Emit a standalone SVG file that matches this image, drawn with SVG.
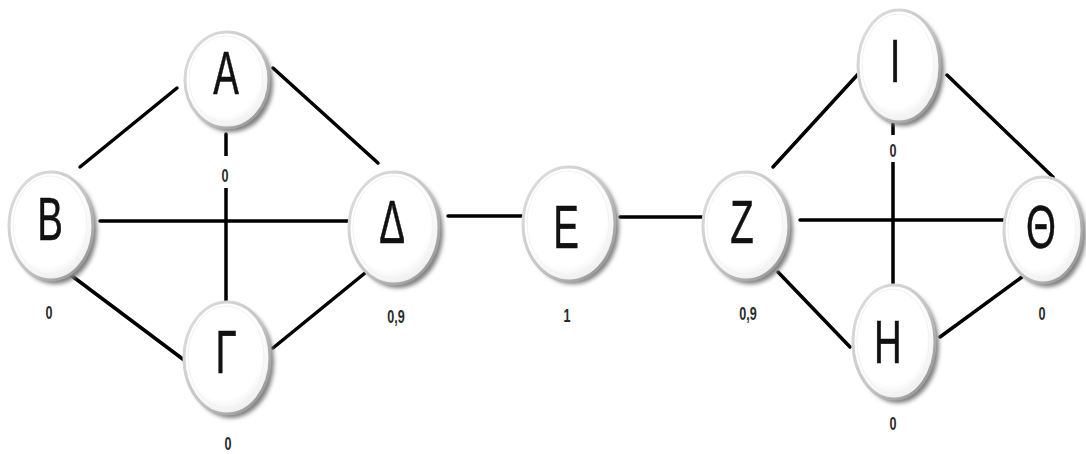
<svg xmlns="http://www.w3.org/2000/svg" width="1086" height="454" viewBox="0 0 1086 454">
  <defs>
    <filter id="soft" x="-30%" y="-30%" width="160%" height="160%">
      <feGaussianBlur stdDeviation="2.2"/>
    </filter>
    <linearGradient id="rim" x1="0" y1="0" x2="1" y2="1">
      <stop offset="0" stop-color="#e2e2e2"/>
      <stop offset="0.55" stop-color="#c4c4c4"/>
      <stop offset="1" stop-color="#8a8a8a"/>
    </linearGradient>
    <radialGradient id="face" cx="0.45" cy="0.42" r="0.6">
      <stop offset="0.75" stop-color="#ffffff"/>
      <stop offset="1" stop-color="#ececec"/>
    </radialGradient>
  </defs>
  <style>
    .edge { stroke: #000; stroke-width: 3.5; stroke-linecap: round; fill: none; }
    .shadow { fill: #7e7e7e; filter: url(#soft); }
    .disc { fill: url(#face); stroke: url(#rim); stroke-width: 3; }
    .inner { fill: none; stroke: #f2f2f2; stroke-width: 1; }
    .letter { font-family: "Liberation Sans", "DejaVu Sans", sans-serif; font-size: 62px; fill: #111; stroke: #111; stroke-width: 0.6; text-anchor: middle; }
    .val { font-family: "Liberation Sans", "DejaVu Sans", sans-serif; font-size: 18px; font-weight: bold; fill: #2a2a2a; text-anchor: middle; }
    .gap { fill: #fff; }
  </style>

  <rect width="1086" height="454" fill="#fff"/>

  <!-- connectors -->
  <g id="edges">
    <line class="edge" x1="80" y1="167" x2="177" y2="88"/>
    <line class="edge" x1="273" y1="68" x2="378" y2="163"/>
    <line class="edge" x1="100" y1="221" x2="350" y2="221"/>
    <line class="edge" x1="226" y1="134" x2="226" y2="301"/>
    <line class="edge" x1="68" y1="273" x2="184" y2="360"/>
    <line class="edge" x1="273" y1="348" x2="365" y2="273"/>
    <line class="edge" x1="448" y1="216" x2="522" y2="216"/>
    <line class="edge" x1="620" y1="217" x2="704" y2="217"/>
    <line class="edge" x1="773" y1="167" x2="860" y2="72"/>
    <line class="edge" x1="947" y1="75" x2="1053" y2="177"/>
    <line class="edge" x1="800" y1="220" x2="1006" y2="220"/>
    <line class="edge" x1="893" y1="124" x2="893" y2="288"/>
    <line class="edge" x1="778" y1="272" x2="850" y2="347"/>
    <line class="edge" x1="940" y1="337" x2="1022" y2="277"/>
  </g>

  <!-- nodes -->
  <g id="node-A">
    <ellipse class="shadow" cx="231" cy="84" rx="42" ry="48"/>
    <ellipse class="disc" cx="227" cy="80" rx="42" ry="48"/>
    <ellipse class="inner" cx="226" cy="79" rx="37" ry="43"/>
    <text class="letter" transform="translate(226 94) scale(0.62 1)">A</text>
    <rect class="gap" x="218" y="156" width="16" height="32"/>
    <text class="val" transform="translate(225 182) scale(0.7 1)">0</text>
  </g>

  <g id="node-B">
    <ellipse class="shadow" cx="55" cy="230" rx="42" ry="54"/>
    <ellipse class="disc" cx="51" cy="226" rx="42" ry="54"/>
    <ellipse class="inner" cx="50" cy="225" rx="37" ry="49"/>
    <text class="letter" transform="translate(50 240) scale(0.62 1)">B</text>
    <text class="val" transform="translate(49 319) scale(0.7 1)">0</text>
  </g>

  <g id="node-G">
    <ellipse class="shadow" cx="231" cy="362" rx="43" ry="56"/>
    <ellipse class="disc" cx="227" cy="358" rx="43" ry="56"/>
    <ellipse class="inner" cx="226" cy="357" rx="38" ry="51"/>
    <text class="letter" transform="translate(226 373) scale(0.62 1)">Γ</text>
    <text class="val" transform="translate(228 450) scale(0.7 1)">0</text>
  </g>

  <g id="node-D">
    <ellipse class="shadow" cx="398" cy="232" rx="45" ry="56"/>
    <ellipse class="disc" cx="394" cy="228" rx="45" ry="56"/>
    <ellipse class="inner" cx="393" cy="227" rx="40" ry="51"/>
    <text class="letter" transform="translate(392 243) scale(0.62 1)">Δ</text>
    <text class="val" transform="translate(396 323) scale(0.7 1)">0,9</text>
  </g>

  <g id="node-E">
    <ellipse class="shadow" cx="573" cy="227" rx="46" ry="57"/>
    <ellipse class="disc" cx="569" cy="224" rx="46" ry="57"/>
    <ellipse class="inner" cx="568" cy="223" rx="41" ry="52"/>
    <text class="letter" transform="translate(566 248) scale(0.62 1)">E</text>
    <text class="val" transform="translate(567 322) scale(0.7 1)">1</text>
  </g>

  <g id="node-Z">
    <ellipse class="shadow" cx="750" cy="230" rx="43" ry="54"/>
    <ellipse class="disc" cx="746" cy="226" rx="43" ry="54"/>
    <ellipse class="inner" cx="745" cy="225" rx="38" ry="49"/>
    <text class="letter" transform="translate(742 243) scale(0.62 1)">Z</text>
    <text class="val" transform="translate(748 320) scale(0.7 1)">0,9</text>
  </g>

  <g id="node-I">
    <ellipse class="shadow" cx="903" cy="70" rx="41" ry="56"/>
    <ellipse class="disc" cx="899" cy="66" rx="41" ry="56"/>
    <ellipse class="inner" cx="898" cy="65" rx="36" ry="51"/>
    <text class="letter" transform="translate(895 82) scale(0.62 1)">I</text>
    <rect class="gap" x="885" y="135" width="16" height="27"/>
    <text class="val" transform="translate(893 157) scale(0.7 1)">0</text>
  </g>

  <g id="node-H">
    <ellipse class="shadow" cx="898" cy="346" rx="41" ry="57"/>
    <ellipse class="disc" cx="894" cy="342" rx="41" ry="57"/>
    <ellipse class="inner" cx="893" cy="341" rx="36" ry="52"/>
    <text class="letter" transform="translate(888 363) scale(0.62 1)">H</text>
    <text class="val" transform="translate(893 430) scale(0.7 1)">0</text>
  </g>

  <g id="node-Th">
    <ellipse class="shadow" cx="1047" cy="234" rx="39" ry="53"/>
    <ellipse class="disc" cx="1043" cy="230" rx="39" ry="53"/>
    <ellipse class="inner" cx="1042" cy="229" rx="34" ry="48"/>
    <text class="letter" transform="translate(1041 248) scale(0.62 1)">Θ</text>
    <text class="val" transform="translate(1042 320) scale(0.7 1)">0</text>
  </g>
</svg>
